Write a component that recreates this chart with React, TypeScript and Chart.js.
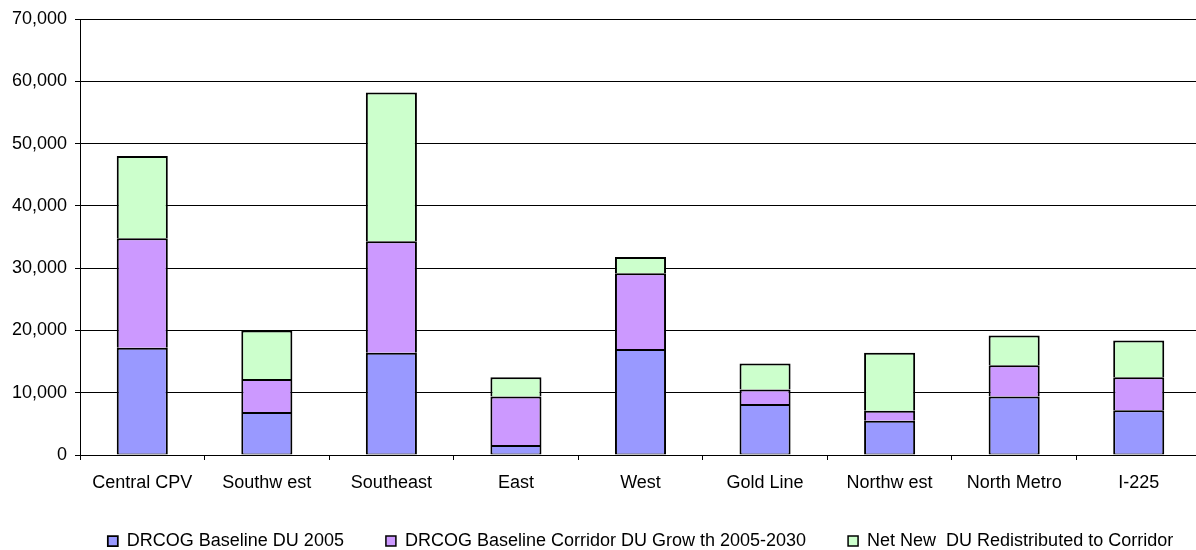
import { useEffect, useRef } from 'react';
import { Chart, registerables } from 'chart.js';

Chart.register(...registerables);

// Corridors along the category axis
const corridors = [
  'Central CPV',
  'Southw est',
  'Southeast',
  'East',
  'West',
  'Gold Line',
  'Northw est',
  'North Metro',
  'I-225',
];

// Dwelling units per corridor, one array per stacked segment
const baselineDU2005 = [17200, 6900, 16400, 1600, 17000, 8200, 5500, 9400, 7200];
const baselineGrowth2005to2030 = [17600, 5300, 17900, 7800, 12200, 2300, 1600, 5000, 5300];
const netNewRedistributed = [13200, 7800, 23900, 3100, 2600, 4200, 9300, 4800, 5900];

const seriesNames = [
  'DRCOG Baseline DU 2005',
  'DRCOG Baseline Corridor DU Grow th 2005-2030',
  'Net New  DU Redistributed to Corridor',
];
const seriesColors = ['#9999FF', '#CC99FF', '#CCFFCC'];

// Value axis range
const yMin = 0;
const yMax = 70000;
const yStep = 10000;

const FONT = "'Liberation Sans', Arial, Helvetica, sans-serif";

// Centre the legend row under the plot area rather than the whole canvas
const legendUnderPlot = {
  id: 'legendUnderPlot',
  afterLayout(chart: any) {
    const legend = chart.legend;
    if (!legend) return;
    const area = chart.chartArea;
    const shift = (area.left + area.right) / 2 - (legend.left + legend.right) / 2;
    legend.left += shift;
    legend.right += shift;
  },
};

export default function App() {
  const canvasRef = useRef<HTMLCanvasElement | null>(null);

  useEffect(() => {
    document.body.style.margin = '0';
    document.body.style.overflow = 'hidden';
    const canvas = canvasRef.current;
    if (!canvas) return;

    const seriesValues = [baselineDU2005, baselineGrowth2005to2030, netNewRedistributed];

    const chart = new Chart(canvas, {
      type: 'bar',
      data: {
        labels: corridors,
        datasets: seriesValues.map((values, i) => ({
          label: seriesNames[i],
          data: values,
          backgroundColor: seriesColors[i],
          borderColor: '#000000',
          // each segment outlines its top; the one below it supplies the shared edge
          borderWidth: { top: 2, bottom: i === 0 ? 1 : 0, left: 2, right: 2 },
          borderSkipped: false,
          barPercentage: 0.41,
          categoryPercentage: 1,
        })),
      },
      plugins: [legendUnderPlot],
      options: {
        responsive: false,
        animation: false,
        layout: { padding: { top: 19, left: 0, right: 0, bottom: 0 } },
        font: { family: FONT },
        scales: {
          x: {
            stacked: true,
            grid: {
              display: true,
              drawOnChartArea: false,
              drawTicks: true,
              tickLength: 5,
              offset: true,
              color: '#000000',
            },
            border: { display: true, color: '#000000', width: 1 },
            ticks: {
              color: '#000000',
              font: { family: FONT, size: 18 },
              padding: 12,
              maxRotation: 0,
              autoSkip: false,
            },
            afterFit(scale: any) {
              scale.height = 35;
            },
          },
          y: {
            stacked: true,
            min: yMin,
            max: yMax,
            grid: {
              color: '#000000',
              lineWidth: 1,
              drawTicks: true,
              tickLength: 5,
            },
            border: { display: true, color: '#000000', width: 1 },
            ticks: {
              stepSize: yStep,
              color: '#000000',
              font: { family: FONT, size: 18 },
              padding: 8,
              callback: (v: any) => Number(v).toLocaleString('en-US'),
            },
            afterFit(scale: any) {
              scale.width = 80;
            },
          },
        },
        plugins: {
          legend: {
            display: true,
            position: 'bottom',
            labels: {
              boxWidth: 10,
              boxHeight: 10,
              padding: 42,
              color: '#000000',
              font: { family: FONT, size: 18 },
            },
          },
          tooltip: { enabled: false },
          title: { display: false },
        },
      },
    });

    return () => chart.destroy();
  }, []);

  return (
    <div style={{ width: 1201, height: 560, position: 'relative', background: '#ffffff' }}>
      <canvas ref={canvasRef} width={1201} height={560} style={{ display: 'block' }} />
    </div>
  );
}
